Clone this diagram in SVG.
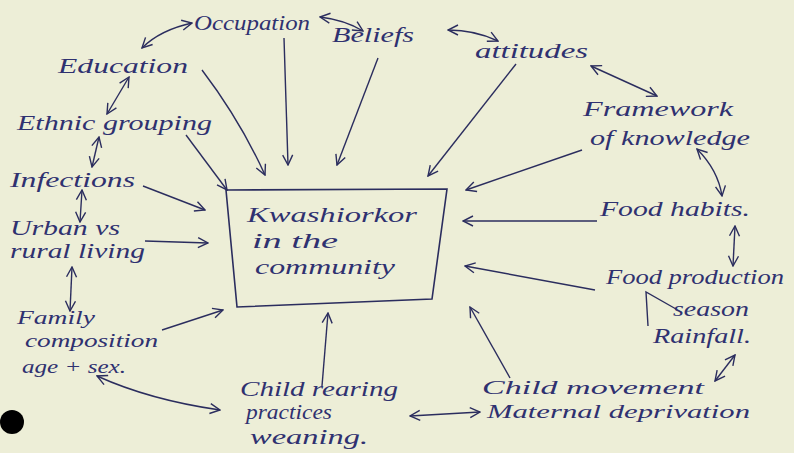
<svg xmlns="http://www.w3.org/2000/svg" width="794" height="453" viewBox="0 0 794 453">
<defs>
<marker id="ah" viewBox="0 0 12 12" refX="11" refY="6" markerWidth="12" markerHeight="12" markerUnits="userSpaceOnUse" orient="auto-start-reverse">
<path d="M1,1 L11,6 L1,11" fill="none" stroke="#2b2d5e" stroke-width="1.4"/>
</marker>
<style>
.t{font-family:"Liberation Serif",serif;font-style:italic;font-size:21px;fill:#2f3170}
.m{font-size:18px}
.c{fill:none;stroke:#2b2d5e;stroke-width:1.4}
.s{marker-end:url(#ah)}
.d{marker-start:url(#ah);marker-end:url(#ah)}
</style>
</defs>
<rect width="794" height="453" fill="#edeed7"/>
<circle cx="12" cy="422" r="12" fill="#000"/>

<g id="kwashiorkor">
<polygon points="226,190 447,189 432,299 237,307" fill="none" stroke="#2b2d5e" stroke-width="1.6"/>
<text class="t" x="247" y="222" textLength="170" lengthAdjust="spacingAndGlyphs">Kwashiorkor</text>
<text class="t" x="252" y="248" textLength="86" lengthAdjust="spacingAndGlyphs">in the</text>
<text class="t" x="255" y="274" textLength="140" lengthAdjust="spacingAndGlyphs">community</text>
</g>
<g id="occupation"><text class="t" x="194" y="30" textLength="116" lengthAdjust="spacingAndGlyphs">Occupation</text></g>
<g id="beliefs"><text class="t" x="332" y="42" textLength="82" lengthAdjust="spacingAndGlyphs">Beliefs</text></g>
<g id="attitudes"><text class="t" x="475" y="58" textLength="113" lengthAdjust="spacingAndGlyphs">attitudes</text></g>
<g id="education"><text class="t" x="58" y="73" textLength="130" lengthAdjust="spacingAndGlyphs">Education</text></g>
<g id="ethnic"><text class="t" x="17" y="130" textLength="195" lengthAdjust="spacingAndGlyphs">Ethnic grouping</text></g>
<g id="framework">
<text class="t" x="583" y="116" textLength="150" lengthAdjust="spacingAndGlyphs">Framework</text>
<text class="t" x="590" y="145" textLength="160" lengthAdjust="spacingAndGlyphs">of knowledge</text>
</g>
<g id="infections"><text class="t" x="10" y="187" textLength="125" lengthAdjust="spacingAndGlyphs">Infections</text></g>
<g id="urban">
<text class="t" x="10" y="235" textLength="110" lengthAdjust="spacingAndGlyphs">Urban vs</text>
<text class="t" x="10" y="258" textLength="135" lengthAdjust="spacingAndGlyphs">rural living</text>
</g>
<g id="foodhabits"><text class="t" x="600" y="216" textLength="150" lengthAdjust="spacingAndGlyphs">Food habits.</text></g>
<g id="foodproduction"><text class="t" x="606" y="284" textLength="178" lengthAdjust="spacingAndGlyphs">Food production</text></g>
<g id="season"><text class="t" x="673" y="316" textLength="76" lengthAdjust="spacingAndGlyphs">season</text></g>
<g id="rainfall"><text class="t" x="653" y="343" textLength="98" lengthAdjust="spacingAndGlyphs">Rainfall.</text></g>
<g id="family">
<text class="t m" x="17" y="324" textLength="78" lengthAdjust="spacingAndGlyphs">Family</text>
<text class="t m" x="25" y="347" textLength="133" lengthAdjust="spacingAndGlyphs">composition</text>
<text class="t m" x="22" y="373" textLength="104" lengthAdjust="spacingAndGlyphs">age + sex.</text>
</g>
<g id="childrearing">
<text class="t" x="240" y="396" textLength="158" lengthAdjust="spacingAndGlyphs">Child rearing</text>
<text class="t" x="246" y="419" textLength="86" lengthAdjust="spacingAndGlyphs">practices</text>
<text class="t" x="250" y="444" textLength="118" lengthAdjust="spacingAndGlyphs">weaning.</text>
</g>
<g id="childmovement">
<text class="t m" x="482" y="394" textLength="222" lengthAdjust="spacingAndGlyphs">Child movement</text>
<text class="t m" x="487" y="418" textLength="263" lengthAdjust="spacingAndGlyphs">Maternal deprivation</text>
</g>

<g id="connectors">
<path class="c d" d="M142,48 Q160,30 192,23"/>
<path class="c d" d="M320,17 Q345,20 363,31"/>
<path class="c d" d="M448,30 Q475,30 498,41"/>
<path class="c d" d="M591,66 L657,96"/>
<path class="c d" d="M129,77 L107,114"/>
<path class="c d" d="M99,137 L92,167"/>
<path class="c d" d="M82,190 L80,222"/>
<path class="c d" d="M72,267 L70,311"/>
<path class="c d" d="M97,376 Q150,400 220,410"/>
<path class="c d" d="M410,416 L480,412"/>
<path class="c d" d="M735,355 L715,381"/>
<path class="c d" d="M697,149 Q718,170 722,196"/>
<path class="c d" d="M735,226 L733,266"/>
<path class="c" d="M648,326 L646,292 L676,309"/>
<path class="c s" d="M202,70 Q240,120 265,175"/>
<path class="c s" d="M284,38 L288,165"/>
<path class="c s" d="M378,58 L337,165"/>
<path class="c s" d="M516,64 L428,176"/>
<path class="c s" d="M582,150 L466,190"/>
<path class="c s" d="M186,135 L227,190"/>
<path class="c s" d="M143,186 L205,210"/>
<path class="c s" d="M145,241 L208,243"/>
<path class="c s" d="M162,330 L223,310"/>
<path class="c s" d="M322,386 L328,313"/>
<path class="c s" d="M597,221 L463,221"/>
<path class="c s" d="M595,290 L465,266"/>
<path class="c s" d="M510,378 L470,307"/>
</g>
</svg>
